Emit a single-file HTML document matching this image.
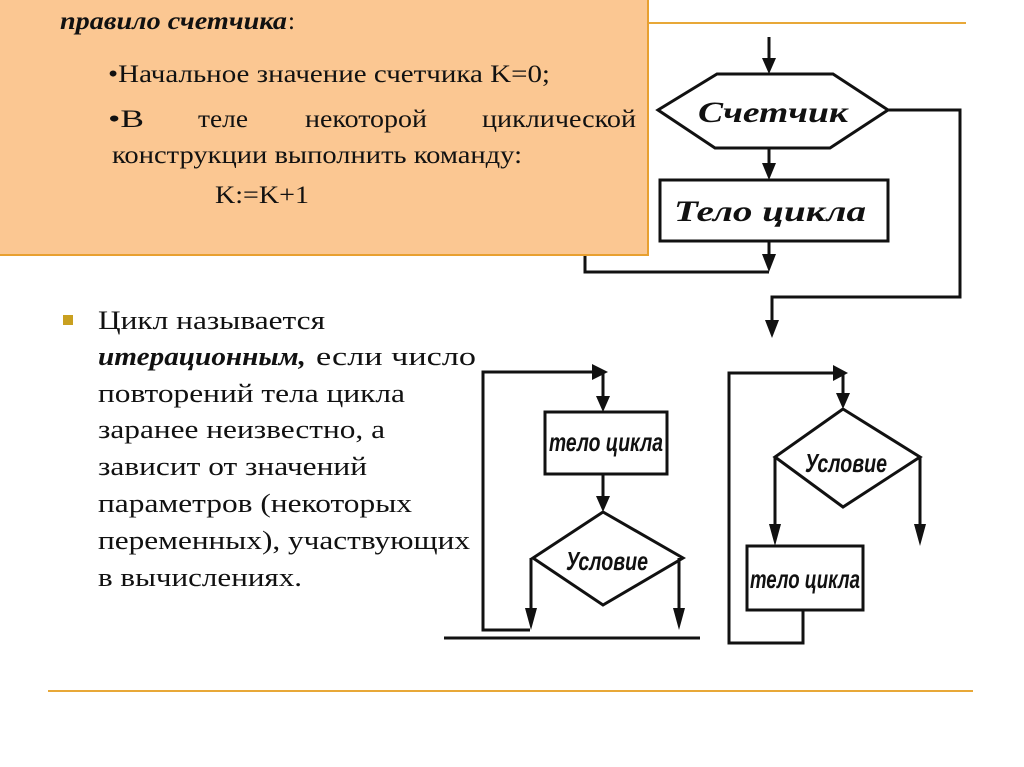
<!DOCTYPE html>
<html><head><meta charset="utf-8"><style>
html,body{margin:0;padding:0;background:#fff;}
svg{display:block}
</style></head><body>
<svg width="1024" height="767" viewBox="0 0 1024 767" xmlns="http://www.w3.org/2000/svg">
<line x1="648" y1="23" x2="966" y2="23" stroke="#E8A838" stroke-width="2"/>
<line x1="48" y1="691" x2="973" y2="691" stroke="#E8A838" stroke-width="2"/>

<g stroke="#111" stroke-width="3" fill="none">
<line x1="769" y1="37" x2="769" y2="62"/>
<polygon points="658,110 717,74 833,74 888,110 830,148 715,148" fill="#fff"/>
<polyline points="888,110 960,110 960,297 772,297 772,322"/>
<line x1="769" y1="148" x2="769" y2="168"/>
<rect x="660" y="180" width="228" height="61" fill="#fff"/>
<line x1="769" y1="241" x2="769" y2="260"/>
<polyline points="585,250 585,272 769,272"/>
<line x1="444" y1="638" x2="700" y2="638"/>
<polyline points="530,630 483,630 483,372 596,372"/>
<line x1="603" y1="372" x2="603" y2="398"/>
<rect x="545" y="412" width="122" height="62" fill="#fff"/>
<line x1="603" y1="474" x2="603" y2="498"/>
<polygon points="603,512 533,558 603,605 683,558" fill="#fff"/>
<line x1="531" y1="558" x2="531" y2="615"/>
<line x1="679" y1="558" x2="679" y2="615"/>
<polyline points="803,610 803,643 729,643 729,373 836,373"/>
<line x1="843" y1="373" x2="843" y2="396"/>
<polygon points="843,409 775,457 843,507 920,457" fill="#fff"/>
<line x1="775" y1="457" x2="775" y2="532"/>
<line x1="920" y1="457" x2="920" y2="532"/>
<rect x="747" y="546" width="116" height="64" fill="#fff"/>
</g>
<g fill="#111">
<polygon points="762,58 776,58 769,74"/>
<polygon points="762,163 776,163 769,180"/>
<polygon points="762,254 776,254 769,272"/>
<polygon points="765,320 779,320 772,338"/>
<polygon points="592,364 592,380 608,372"/>
<polygon points="596,396 610,396 603,412"/>
<polygon points="596,496 610,496 603,512"/>
<polygon points="525,608 537,608 531,630"/>
<polygon points="673,608 685,608 679,630"/>
<polygon points="833,365 833,381 848,373"/>
<polygon points="836,393 850,393 843,409"/>
<polygon points="769,524 781,524 775,546"/>
<polygon points="914,524 926,524 920,546"/>
</g>
<g font-family="'Liberation Serif','DejaVu Serif',serif" font-style="italic" font-weight="bold" fill="#111">
<text x="773" y="122" font-size="30" text-anchor="middle" textLength="150" lengthAdjust="spacingAndGlyphs">Счетчик</text>
<text x="770" y="221" font-size="30" text-anchor="middle" textLength="192" lengthAdjust="spacingAndGlyphs">Тело цикла</text>
<g font-family="'Liberation Sans Narrow','Liberation Sans',sans-serif" font-size="26">
<text x="606" y="451" text-anchor="middle" textLength="114" lengthAdjust="spacingAndGlyphs">тело цикла</text>
<text x="607" y="570" text-anchor="middle" textLength="82" lengthAdjust="spacingAndGlyphs">Условие</text>
<text x="846" y="472" text-anchor="middle" textLength="82" lengthAdjust="spacingAndGlyphs">Условие</text>
<text x="805" y="588" text-anchor="middle" textLength="110" lengthAdjust="spacingAndGlyphs">тело цикла</text>
</g>
</g>
<rect x="-2" y="-2" width="650" height="257" fill="#FBC792" stroke="#E8A030" stroke-width="2"/>
<g font-family="'Liberation Serif',serif" fill="#111" font-size="25">
<text x="60" y="29" font-style="italic" font-weight="bold" textLength="227" lengthAdjust="spacingAndGlyphs">правило счетчика</text><text x="288" y="29">:</text>
<text x="108" y="82" textLength="442" lengthAdjust="spacingAndGlyphs">•Начальное значение счетчика K=0;</text>
<text x="108" y="127" textLength="36" lengthAdjust="spacingAndGlyphs">•В</text>
<text x="198" y="127" textLength="50" lengthAdjust="spacingAndGlyphs">теле</text>
<text x="305" y="127" textLength="122" lengthAdjust="spacingAndGlyphs">некоторой</text>
<text x="482" y="127" textLength="154" lengthAdjust="spacingAndGlyphs">циклической</text>
<text x="112" y="163" textLength="410" lengthAdjust="spacingAndGlyphs">конструкции выполнить команду:</text>
<text x="215" y="203" textLength="94" lengthAdjust="spacingAndGlyphs">K:=K+1</text>
</g>
<rect x="63" y="315" width="10" height="10" fill="#C9A020"/>
<g font-family="'Liberation Serif',serif" fill="#111" font-size="26">
<text x="98" y="329" textLength="227" lengthAdjust="spacingAndGlyphs">Цикл называется</text>
<text x="98" y="365" font-style="italic" font-weight="bold" textLength="208" lengthAdjust="spacingAndGlyphs">итерационным,</text>
<text x="316" y="365" textLength="160" lengthAdjust="spacingAndGlyphs">если число</text>
<text x="98" y="402" textLength="307" lengthAdjust="spacingAndGlyphs">повторений тела цикла</text>
<text x="98" y="438" textLength="287" lengthAdjust="spacingAndGlyphs">заранее неизвестно, а</text>
<text x="98" y="475" textLength="269" lengthAdjust="spacingAndGlyphs">зависит от значений</text>
<text x="98" y="512" textLength="314" lengthAdjust="spacingAndGlyphs">параметров (некоторых</text>
<text x="98" y="549" textLength="372" lengthAdjust="spacingAndGlyphs">переменных), участвующих</text>
<text x="98" y="586" textLength="204" lengthAdjust="spacingAndGlyphs">в вычислениях.</text>
</g>
</svg>
</body></html>
